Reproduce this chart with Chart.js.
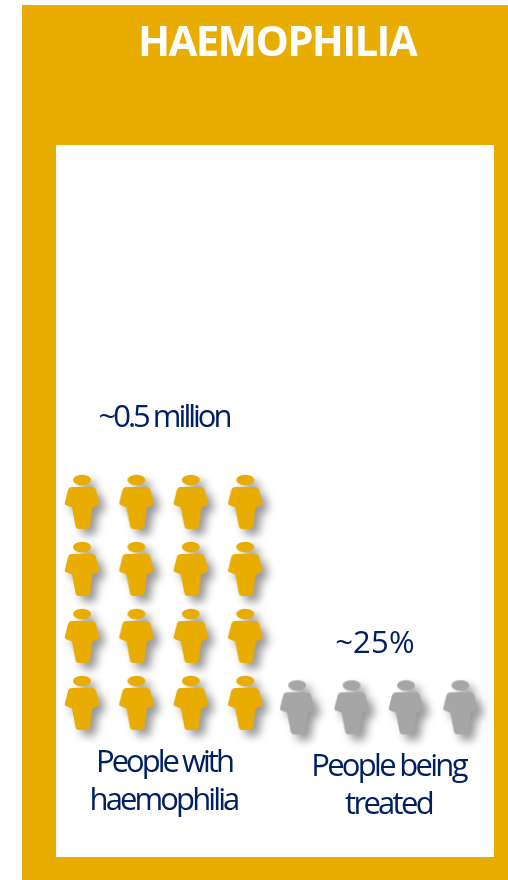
<!DOCTYPE html>
<html lang="en">
<head>
<meta charset="utf-8">
<title>Haemophilia</title>
<script src="https://cdn.jsdelivr.net/npm/chart.js@4/dist/chart.umd.min.js"></script>
<style>
  html, body { margin: 0; padding: 0; background: #fff; width: 508px; height: 880px; overflow: hidden; }
  #frame { position: absolute; left: 22px; top: 5px; width: 486px; height: 875px; background: #E9AC00; }
  #inner { position: absolute; left: 56px; top: 145px; width: 438px; height: 712px; background: #fff; }
  #wrap { position: absolute; left: 0; top: 0; width: 508px; height: 880px; }
</style>
</head>
<body>
<div id="frame"></div>
<div id="inner"></div>
<div id="wrap"><canvas id="chart" width="508" height="880"></canvas></div>
<script>
// Pictogram contents
const heading = 'HAEMOPHILIA';
const categories = ['People with haemophilia', 'People being treated'];
const peopleIcons = [16, 4];
const valueLabels = ['~0.5 million', '~25%'];
const iconColors = ['#E9AC00', '#A6A6A6'];
const INK = '#002060';

// Grid shape: icons per row, one unit on each axis is one icon slot
const ICONS_PER_ROW = 4;

// A person: elliptical head over a tapered, rounded torso, with a soft drop shadow
function makePerson(color) {
  const c = document.createElement('canvas');
  c.width = 76; c.height = 84;
  const g = c.getContext('2d');
  g.translate(38, 42);
  g.shadowColor = 'rgba(70,70,70,0.55)';
  g.shadowBlur = 9;
  g.shadowOffsetX = 6;
  g.shadowOffsetY = 6;
  g.fillStyle = color;
  g.beginPath();
  g.ellipse(0, -23, 9, 5.2, 0, 0, Math.PI * 2);
  g.moveTo(-10, -16);
  g.lineTo(10, -16);
  g.quadraticCurveTo(13, -16, 14, -13);
  g.lineTo(17, -1);
  g.quadraticCurveTo(18, 1.5, 15, 2.5);
  g.lineTo(10.5, 4.5);
  g.lineTo(8, 23);
  g.quadraticCurveTo(7.5, 26, 4, 26);
  g.lineTo(-3, 26);
  g.quadraticCurveTo(-6, 26, -6.5, 23);
  g.lineTo(-10, 4.5);
  g.lineTo(-15, 2.5);
  g.quadraticCurveTo(-18, 1.5, -17, -1);
  g.lineTo(-14, -13);
  g.quadraticCurveTo(-13, -16, -10, -16);
  g.closePath();
  g.fill();
  return c;
}

// Lay the icons out row by row from the bottom of each group's block
function gridPoints(count, firstColumn, baseRow) {
  const pts = [];
  for (let i = 0; i < count; i++) {
    pts.push({
      x: firstColumn + (i % ICONS_PER_ROW),
      y: baseRow + Math.floor(i / ICONS_PER_ROW)
    });
  }
  return pts;
}

const texts = [
  { t: heading, x: 277, y: 56, font: 'bold 42px "Open Sans"', color: '#fff', ls: '-1.7px' },
  { t: valueLabels[0], x: 164, y: 427, font: '31px "Open Sans"', color: INK, ls: '-3px' },
  { t: valueLabels[1], x: 375, y: 653, font: '31px "Open Sans"', color: INK, ls: '0.2px' },
  { t: 'People with', x: 164, y: 772, font: '31px "Open Sans"', color: INK, ls: '-3px' },
  { t: 'haemophilia', x: 163.5, y: 810, font: '31px "Open Sans"', color: INK, ls: '-2.9px' },
  { t: 'People being', x: 388.5, y: 776, font: '31px "Open Sans"', color: INK, ls: '-2.7px' },
  { t: 'treated', x: 388.5, y: 814, font: '31px "Open Sans"', color: INK, ls: '-2.7px' }
];

const captionPlugin = {
  id: 'captions',
  afterDraw(chart) {
    const ctx = chart.ctx;
    ctx.save();
    ctx.textAlign = 'center';
    ctx.textBaseline = 'alphabetic';
    texts.forEach(d => {
      ctx.font = d.font;
      ctx.letterSpacing = d.ls;
      ctx.fillStyle = d.color;
      ctx.fillText(d.t, d.x, d.y);
    });
    ctx.restore();
  }
};

function draw() {
  new Chart(document.getElementById('chart'), {
    type: 'scatter',
    data: {
      datasets: categories.map((name, i) => ({
        label: name,
        data: gridPoints(peopleIcons[i], i === 0 ? 1 : 4.955, i === 0 ? 1 : 0.935),
        pointStyle: makePerson(iconColors[i]),
        pointRadius: 30,
        pointHoverRadius: 30,
        clip: false
      }))
    },
    options: {
      responsive: false,
      animation: false,
      layout: { padding: 0, autoPadding: false },
      plugins: { legend: { display: false }, title: { display: false }, tooltip: { enabled: false } },
      scales: {
        x: { type: 'linear', display: false, min: -0.507, max: 8.83 },
        y: { type: 'linear', display: false, min: -1.627, max: 11.507 }
      }
    },
    plugins: [captionPlugin]
  });
}

// Text is painted on the canvas, so the font has to be ready first
Promise.all([
  document.fonts.load('bold 42px "Open Sans"'),
  document.fonts.load('31px "Open Sans"')
]).then(draw, draw);
</script>
</body>
</html>
